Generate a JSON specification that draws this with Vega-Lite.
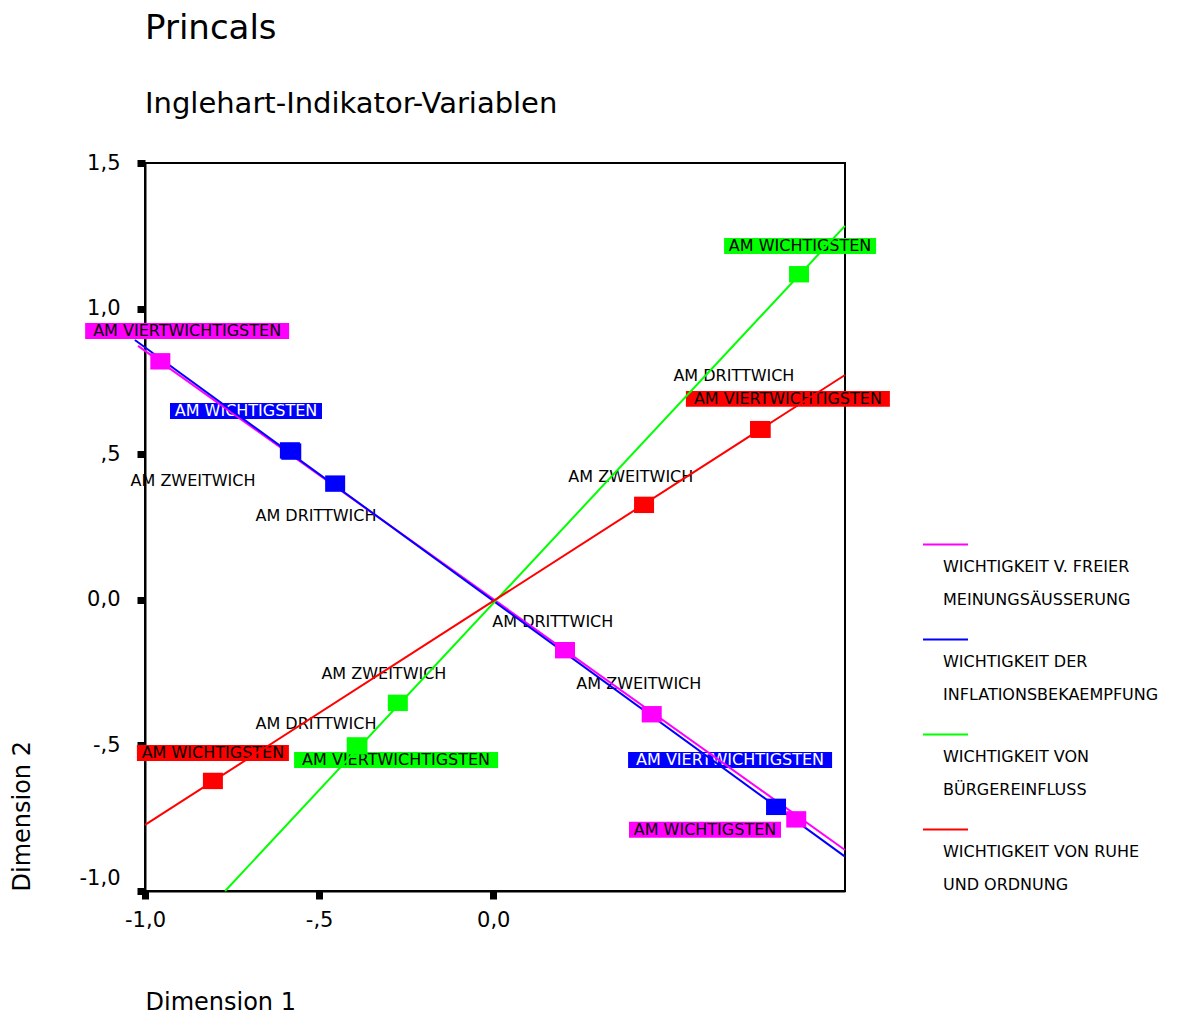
{
  "$schema": "https://vega.github.io/schema/vega-lite/v6.json",
  "width": 700,
  "height": 728,
  "autosize": "none",
  "padding": {"left": 145, "top": 163, "right": 346, "bottom": 123},
  "background": "white",
  "config": {
    "font": "DejaVu Sans",
    "view": {"stroke": "black", "strokeWidth": 2},
    "axis": {
      "grid": false,
      "domainColor": "black",
      "domainWidth": 2,
      "tickColor": "black",
      "tickSize": 8,
      "tickWidth": 7,
      "labelFont": "DejaVu Sans",
      "labelFontSize": 21,
      "labelColor": "black",
      "labelFlush": false,
      "titleFont": "DejaVu Sans",
      "titleFontSize": 24,
      "titleFontWeight": "normal",
      "titleColor": "black"
    }
  },
  "title": {
    "text": "Princals",
    "subtitle": "Inglehart-Indikator-Variablen",
    "anchor": "start",
    "frame": "group",
    "font": "DejaVu Sans",
    "fontSize": 34,
    "fontWeight": "normal",
    "color": "black",
    "subtitleFont": "DejaVu Sans",
    "subtitleFontSize": 29,
    "subtitleColor": "black",
    "subtitlePadding": 44,
    "offset": 33
  },
  "datasets": {
    "points": [
      {"variable": "WICHTIGKEIT V. FREIER MEINUNGSÄUSSERUNG", "category": "AM WICHTIGSTEN", "x": 0.870, "y": -0.754},
      {"variable": "WICHTIGKEIT V. FREIER MEINUNGSÄUSSERUNG", "category": "AM ZWEITWICH", "x": 0.455, "y": -0.393},
      {"variable": "WICHTIGKEIT V. FREIER MEINUNGSÄUSSERUNG", "category": "AM DRITTWICH", "x": 0.206, "y": -0.173},
      {"variable": "WICHTIGKEIT V. FREIER MEINUNGSÄUSSERUNG", "category": "AM VIERTWICHTIGSTEN", "x": -0.956, "y": 0.819},
      {"variable": "WICHTIGKEIT DER INFLATIONSBEKAEMPFUNG", "category": "AM WICHTIGSTEN", "x": -0.584, "y": 0.513},
      {"variable": "WICHTIGKEIT DER INFLATIONSBEKAEMPFUNG", "category": "AM ZWEITWICH", "x": -0.580, "y": 0.509},
      {"variable": "WICHTIGKEIT DER INFLATIONSBEKAEMPFUNG", "category": "AM DRITTWICH", "x": -0.454, "y": 0.399},
      {"variable": "WICHTIGKEIT DER INFLATIONSBEKAEMPFUNG", "category": "AM VIERTWICHTIGSTEN", "x": 0.812, "y": -0.711},
      {"variable": "WICHTIGKEIT VON BÜRGEREINFLUSS", "category": "AM WICHTIGSTEN", "x": 0.878, "y": 1.118},
      {"variable": "WICHTIGKEIT VON BÜRGEREINFLUSS", "category": "AM ZWEITWICH", "x": -0.274, "y": -0.354},
      {"variable": "WICHTIGKEIT VON BÜRGEREINFLUSS", "category": "AM DRITTWICH", "x": -0.390, "y": -0.503},
      {"variable": "WICHTIGKEIT VON BÜRGEREINFLUSS", "category": "AM VIERTWICHTIGSTEN", "x": -0.392, "y": -0.500},
      {"variable": "WICHTIGKEIT VON RUHE UND ORDNUNG", "category": "AM WICHTIGSTEN", "x": -0.805, "y": -0.622},
      {"variable": "WICHTIGKEIT VON RUHE UND ORDNUNG", "category": "AM ZWEITWICH", "x": 0.433, "y": 0.326},
      {"variable": "WICHTIGKEIT VON RUHE UND ORDNUNG", "category": "AM DRITTWICH", "x": 0.766, "y": 0.586},
      {"variable": "WICHTIGKEIT VON RUHE UND ORDNUNG", "category": "AM VIERTWICHTIGSTEN", "x": 0.768, "y": 0.584}
    ],
    "labels": [
      {"variable": "WICHTIGKEIT V. FREIER MEINUNGSÄUSSERUNG", "category": "AM WICHTIGSTEN", "x": 0.608, "y": -0.790},
      {"variable": "WICHTIGKEIT V. FREIER MEINUNGSÄUSSERUNG", "category": "AM ZWEITWICH", "x": 0.418, "y": -0.289},
      {"variable": "WICHTIGKEIT V. FREIER MEINUNGSÄUSSERUNG", "category": "AM DRITTWICH", "x": 0.171, "y": -0.076},
      {"variable": "WICHTIGKEIT V. FREIER MEINUNGSÄUSSERUNG", "category": "AM VIERTWICHTIGSTEN", "x": -0.879, "y": 0.923},
      {"variable": "WICHTIGKEIT DER INFLATIONSBEKAEMPFUNG", "category": "AM WICHTIGSTEN", "x": -0.710, "y": 0.648},
      {"variable": "WICHTIGKEIT DER INFLATIONSBEKAEMPFUNG", "category": "AM ZWEITWICH", "x": -0.862, "y": 0.408},
      {"variable": "WICHTIGKEIT DER INFLATIONSBEKAEMPFUNG", "category": "AM DRITTWICH", "x": -0.509, "y": 0.288},
      {"variable": "WICHTIGKEIT DER INFLATIONSBEKAEMPFUNG", "category": "AM VIERTWICHTIGSTEN", "x": 0.680, "y": -0.550},
      {"variable": "WICHTIGKEIT VON BÜRGEREINFLUSS", "category": "AM WICHTIGSTEN", "x": 0.881, "y": 1.215},
      {"variable": "WICHTIGKEIT VON BÜRGEREINFLUSS", "category": "AM ZWEITWICH", "x": -0.314, "y": -0.255},
      {"variable": "WICHTIGKEIT VON BÜRGEREINFLUSS", "category": "AM DRITTWICH", "x": -0.509, "y": -0.427},
      {"variable": "WICHTIGKEIT VON BÜRGEREINFLUSS", "category": "AM VIERTWICHTIGSTEN", "x": -0.279, "y": -0.550},
      {"variable": "WICHTIGKEIT VON RUHE UND ORDNUNG", "category": "AM WICHTIGSTEN", "x": -0.805, "y": -0.526},
      {"variable": "WICHTIGKEIT VON RUHE UND ORDNUNG", "category": "AM ZWEITWICH", "x": 0.395, "y": 0.422},
      {"variable": "WICHTIGKEIT VON RUHE UND ORDNUNG", "category": "AM DRITTWICH", "x": 0.691, "y": 0.769},
      {"variable": "WICHTIGKEIT VON RUHE UND ORDNUNG", "category": "AM VIERTWICHTIGSTEN", "x": 0.846, "y": 0.690}
    ],
    "vectors": [
      {"variable": "WICHTIGKEIT V. FREIER MEINUNGSÄUSSERUNG", "x": -1.02, "y": 0.872},
      {"variable": "WICHTIGKEIT V. FREIER MEINUNGSÄUSSERUNG", "x": 1.01, "y": -0.859},
      {"variable": "WICHTIGKEIT DER INFLATIONSBEKAEMPFUNG", "x": -1.029, "y": 0.892},
      {"variable": "WICHTIGKEIT DER INFLATIONSBEKAEMPFUNG", "x": 1.01, "y": -0.882},
      {"variable": "WICHTIGKEIT VON BÜRGEREINFLUSS", "x": -0.770, "y": -1.0},
      {"variable": "WICHTIGKEIT VON BÜRGEREINFLUSS", "x": 1.01, "y": 1.284},
      {"variable": "WICHTIGKEIT VON RUHE UND ORDNUNG", "x": -1.0, "y": -0.773},
      {"variable": "WICHTIGKEIT VON RUHE UND ORDNUNG", "x": 1.01, "y": 0.772}
    ]
  },
  "layer": [
    {
      "mark": {"type": "rule", "color": "black", "strokeWidth": 2},
      "encoding": {"x": {"datum": 0, "type": "quantitative"}}
    },
    {
      "mark": {"type": "rule", "color": "black", "strokeWidth": 2},
      "encoding": {"y": {"datum": 0, "type": "quantitative"}}
    },
    {
      "encoding": {
        "x": {
          "field": "x",
          "type": "quantitative",
          "scale": {"domain": [-1, 1.01], "nice": false, "zero": false},
          "axis": {
            "values": [-1, -0.5, 0],
            "labelExpr": "datum.value == 0 ? '0,0' : replace(replace(replace(format(datum.value, '.1f'), '−', '-'), '0.', '.'), '.', ',')",
            "labelPadding": 10,
            "title": "Dimension 1",
            "titleAnchor": "start",
            "titleAlign": "left",
            "titlePadding": 60
          }
        },
        "y": {
          "field": "y",
          "type": "quantitative",
          "scale": {"domain": [-1, 1.5], "nice": false, "zero": false},
          "axis": {
            "values": [-1, -0.5, 0, 0.5, 1, 1.5],
            "labelExpr": "datum.value == 0 ? '0,0' : replace(replace(replace(format(datum.value, '.1f'), '−', '-'), '0.', '.'), '.', ',')",
            "labelPadding": 17,
            "labelOffset": {"condition": {"test": "datum.value == -1", "value": -13}, "value": 0},
            "title": "Dimension 2",
            "titleAnchor": "start",
            "titleAlign": "left",
            "titlePadding": 45
          }
        },
        "color": {
          "field": "variable",
          "type": "nominal",
          "scale": {"domain": ["WICHTIGKEIT V. FREIER MEINUNGSÄUSSERUNG", "WICHTIGKEIT DER INFLATIONSBEKAEMPFUNG", "WICHTIGKEIT VON BÜRGEREINFLUSS", "WICHTIGKEIT VON RUHE UND ORDNUNG"], "range": ["#ff00ff", "#0000ff", "#00ff00", "#ff0000"]},
          "legend": {
            "orient": "none",
            "legendX": 777,
            "legendY": 358,
            "title": null,
            "padding": 0,
            "symbolType": "stroke",
            "symbolSize": 2025,
            "symbolStrokeWidth": 2,
            "labelFont": "DejaVu Sans",
            "labelFontSize": 16,
            "labelColor": "black",
            "labelOffset": -26,
            "labelBaseline": "top",
            "labelLimit": 400,
            "rowPadding": 8,
            "labelExpr": "datum.label == 'WICHTIGKEIT VON RUHE UND ORDNUNG' ? ['WICHTIGKEIT VON RUHE', 'UND ORDNUNG'] : [substring(datum.label, 0, lastindexof(datum.label, ' ')), substring(datum.label, lastindexof(datum.label, ' ') + 1)]",
            "encode": {"labels": {"update": {"lineHeight": {"value": 33}, "dy": {"value": 14}}}}
          }
        }
      },
      "layer": [
        {
          "data": {"name": "labels"},
          "transform": [{"filter": "datum.category == 'AM WICHTIGSTEN'"}],
          "mark": {"type": "point", "shape": "M-1,-0.105L1,-0.105L1,0.105L-1,0.105Z", "size": 23104, "filled": true, "opacity": 1, "strokeWidth": 0}
        },
        {
          "data": {"name": "labels"},
          "transform": [{"filter": "datum.category == 'AM VIERTWICHTIGSTEN'"}],
          "mark": {"type": "point", "shape": "M-1,-0.0784L1,-0.0784L1,0.0784L-1,0.0784Z", "size": 41616, "filled": true, "opacity": 1, "strokeWidth": 0}
        },
        {
          "data": {"name": "labels"},
          "mark": {"type": "text", "font": "DejaVu Sans", "fontSize": 16, "align": "center", "baseline": "middle"},
          "encoding": {
            "text": {"field": "category"},
            "color": {
              "condition": {"test": "datum.variable == 'WICHTIGKEIT DER INFLATIONSBEKAEMPFUNG' && (datum.category == 'AM WICHTIGSTEN' || datum.category == 'AM VIERTWICHTIGSTEN')", "value": "white"},
              "value": "black"
            }
          }
        },
        {
          "data": {"name": "vectors"},
          "mark": {"type": "line", "strokeWidth": 2, "clip": false}
        },
        {
          "data": {"name": "points"},
          "mark": {"type": "point", "shape": "M-1,-0.82L1,-0.82L1,0.82L-1,0.82Z", "size": 400, "filled": true, "opacity": 1, "strokeWidth": 0}
        }
      ]
    }
  ]
}
